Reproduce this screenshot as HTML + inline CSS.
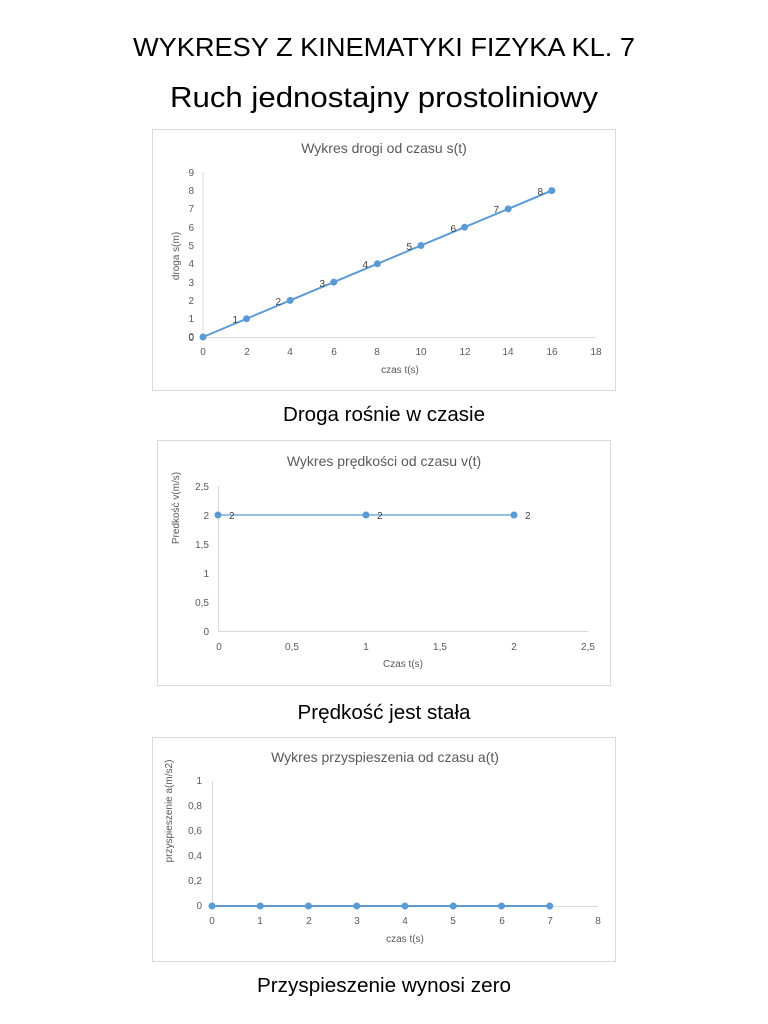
<!DOCTYPE html>
<html><head><meta charset="utf-8"><style>
html,body{margin:0;padding:0;background:#fff;}
svg{display:block;}
text{font-family:"Liberation Sans",sans-serif;}
.t{fill:#595959;font-size:10px;}
.ct{fill:#595959;font-size:14px;}
.dl{fill:#404040;font-size:10px;}
</style></head><body>
<svg width="768" height="1024" viewBox="0 0 768 1024" xmlns="http://www.w3.org/2000/svg">
<rect width="768" height="1024" fill="#fff"/>
<text x="384" y="56" text-anchor="middle" font-size="26" fill="#000" textLength="502" lengthAdjust="spacingAndGlyphs">WYKRESY Z KINEMATYKI FIZYKA KL. 7</text>
<text x="384" y="107" text-anchor="middle" font-size="29" fill="#000" textLength="428" lengthAdjust="spacingAndGlyphs">Ruch jednostajny prostoliniowy</text>

<!-- Chart 1 -->
<rect x="152.5" y="129.5" width="463" height="261" fill="#fff" stroke="#d9d9d9"/>
<text class="ct" x="384" y="153" text-anchor="middle">Wykres drogi od czasu s(t)</text>
<line x1="203" y1="172" x2="203" y2="337" stroke="#d9d9d9"/>
<line x1="203" y1="337.5" x2="596" y2="337.5" stroke="#d9d9d9"/>
<g class="t" text-anchor="end">
<text x="194" y="341">0</text><text x="194" y="340">0</text><text x="194" y="322">1</text><text x="194" y="304">2</text><text x="194" y="286">3</text><text x="194" y="267">4</text><text x="194" y="249">5</text><text x="194" y="231">6</text><text x="194" y="212">7</text><text x="194" y="194">8</text><text x="194" y="176">9</text>
</g>
<g class="t" text-anchor="middle">
<text x="203" y="355">0</text><text x="247" y="355">2</text><text x="290" y="355">4</text><text x="334" y="355">6</text><text x="377" y="355">8</text><text x="421" y="355">10</text><text x="465" y="355">12</text><text x="508" y="355">14</text><text x="552" y="355">16</text><text x="596" y="355">18</text>
<text x="400" y="373">czas t(s)</text>
</g>
<text class="t" transform="translate(179,256) rotate(-90)" text-anchor="middle">droga  s(m)</text>
<polyline points="203,337 551.8,190.6" stroke="#5b9bd5" stroke-width="2" fill="none"/>
<g fill="#5b9bd5">
<circle cx="203" cy="337" r="3.5"/><circle cx="246.6" cy="318.7" r="3.5"/><circle cx="290.2" cy="300.4" r="3.5"/><circle cx="333.8" cy="282.1" r="3.5"/><circle cx="377.4" cy="263.8" r="3.5"/><circle cx="421" cy="245.5" r="3.5"/><circle cx="464.6" cy="227.2" r="3.5"/><circle cx="508.2" cy="208.9" r="3.5"/><circle cx="551.8" cy="190.6" r="3.5"/>
</g>
<g class="dl" text-anchor="end">
<text x="238" y="323">1</text><text x="281" y="305">2</text><text x="325" y="287">3</text><text x="368" y="268">4</text><text x="412" y="250">5</text><text x="456" y="232">6</text><text x="499" y="213">7</text><text x="543" y="195">8</text>
</g>
<text x="384" y="421" text-anchor="middle" font-size="20" fill="#000" textLength="202" lengthAdjust="spacingAndGlyphs">Droga rośnie w czasie</text>

<!-- Chart 2 -->
<rect x="157.5" y="440.5" width="453" height="245" fill="#fff" stroke="#d9d9d9"/>
<text class="ct" x="384" y="466" text-anchor="middle">Wykres prędkości od czasu v(t)</text>
<line x1="218.5" y1="486" x2="218.5" y2="631" stroke="#d9d9d9"/>
<line x1="218" y1="631.5" x2="588" y2="631.5" stroke="#d9d9d9"/>
<g class="t" text-anchor="end">
<text x="209" y="635">0</text><text x="209" y="606">0,5</text><text x="209" y="577">1</text><text x="209" y="548">1,5</text><text x="209" y="519">2</text><text x="209" y="490">2,5</text>
</g>
<g class="t" text-anchor="middle">
<text x="219" y="650">0</text><text x="292" y="650">0,5</text><text x="366" y="650">1</text><text x="440" y="650">1,5</text><text x="514" y="650">2</text><text x="588" y="650">2,5</text>
<text x="403" y="667">Czas t(s)</text>
</g>
<text class="t" transform="translate(179,508) rotate(-90)" text-anchor="middle">Predkość v(m/s)</text>
<line x1="218" y1="515" x2="514" y2="515" stroke="#5b9bd5" stroke-width="1.3"/>
<g fill="#5b9bd5"><circle cx="218" cy="515" r="3.5"/><circle cx="366" cy="515" r="3.5"/><circle cx="514" cy="515" r="3.5"/></g>
<g class="dl"><text x="229" y="519">2</text><text x="377" y="519">2</text><text x="525" y="519">2</text></g>
<text x="384" y="719" text-anchor="middle" font-size="20" fill="#000" textLength="173" lengthAdjust="spacingAndGlyphs">Prędkość jest stała</text>

<!-- Chart 3 -->
<rect x="152.5" y="737.5" width="463" height="224" fill="#fff" stroke="#d9d9d9"/>
<text class="ct" x="385" y="762" text-anchor="middle">Wykres przyspieszenia od czasu a(t)</text>
<line x1="212.5" y1="781" x2="212.5" y2="906" stroke="#d9d9d9"/>
<line x1="212" y1="906.5" x2="598" y2="906.5" stroke="#d9d9d9"/>
<g class="t" text-anchor="end">
<text x="202" y="909">0</text><text x="202" y="884">0,2</text><text x="202" y="859">0,4</text><text x="202" y="834">0,6</text><text x="202" y="809">0,8</text><text x="202" y="784">1</text>
</g>
<g class="t" text-anchor="middle">
<text x="212" y="924">0</text><text x="260" y="924">1</text><text x="309" y="924">2</text><text x="357" y="924">3</text><text x="405" y="924">4</text><text x="453" y="924">5</text><text x="502" y="924">6</text><text x="550" y="924">7</text><text x="598" y="924">8</text>
<text x="405" y="942">czas t(s)</text>
</g>
<text class="t" font-size="9" transform="translate(172,811) rotate(-90)" text-anchor="middle">przyspieszenie a(m/s2)</text>
<line x1="212" y1="906" x2="550" y2="906" stroke="#5b9bd5" stroke-width="2"/>
<g fill="#5b9bd5"><circle cx="212" cy="906" r="3.5"/><circle cx="260.25" cy="906" r="3.5"/><circle cx="308.5" cy="906" r="3.5"/><circle cx="356.75" cy="906" r="3.5"/><circle cx="405" cy="906" r="3.5"/><circle cx="453.25" cy="906" r="3.5"/><circle cx="501.5" cy="906" r="3.5"/><circle cx="549.75" cy="906" r="3.5"/></g>
<text x="384" y="992" text-anchor="middle" font-size="20" fill="#000" textLength="254" lengthAdjust="spacingAndGlyphs">Przyspieszenie wynosi zero</text>
</svg>
</body></html>
